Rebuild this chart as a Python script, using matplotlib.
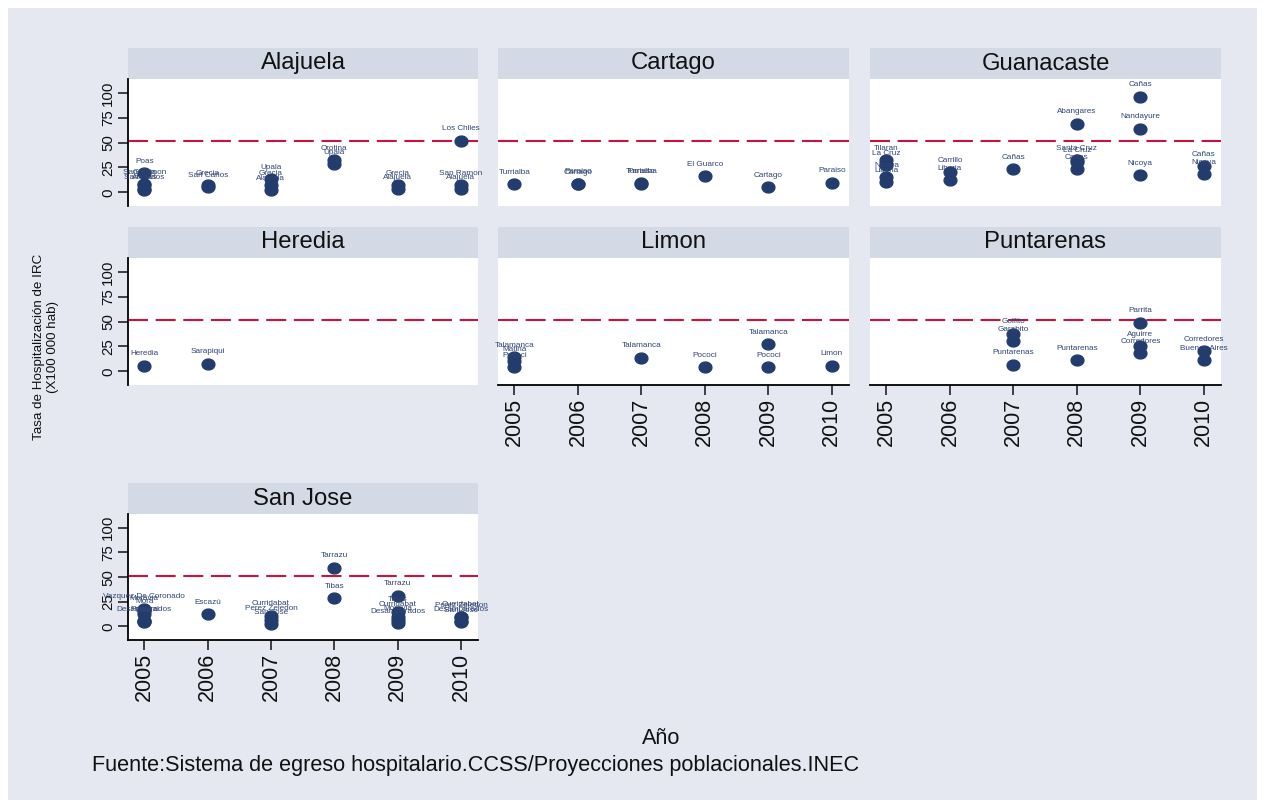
import matplotlib
matplotlib.use("Agg")
import matplotlib.pyplot as plt
from matplotlib.path import Path
from matplotlib.patches import Rectangle
import numpy as np

plt.rcParams['font.family'] = ['Liberation Sans', 'DejaVu Sans']
plt.rcParams['lines.scale_dashes'] = False

# ---------------- data ----------------
year_ticks = [2005, 2006, 2007, 2008, 2009, 2010]
y_ticks = [0, 25, 50, 75, 100]
threshold = 51.5

alajuela_years = [2005, 2005, 2005, 2005, 2005, 2006, 2006, 2007, 2007, 2007,
                  2008, 2008, 2009, 2009, 2010, 2010, 2010]
alajuela_vals = [19, 8, 7.5, 3, 2.5, 7, 5, 13, 7, 2, 32, 28, 7, 3, 7, 3, 52]
alajuela_labels = ['Poas', 'San Ramon', 'Grecia', 'San Carlos', 'Atenas',
                   'Grecia', 'San Carlos', 'Upala', 'Grecia', 'Alajuela',
                   'Orotina', 'Upala', 'Grecia', 'Alajuela',
                   'San Ramon', 'Alajuela', 'Los Chiles']

cartago_years = [2005, 2006, 2006, 2007, 2007, 2008, 2009, 2010]
cartago_vals = [8.3, 8, 8.5, 9, 8.5, 16.4, 5, 9.6]
cartago_labels = ['Turrialba', 'Cartago', 'Paraiso', 'Turrialba', 'Paraiso',
                  'El Guarco', 'Cartago', 'Paraiso']

guanacaste_years = [2005, 2005, 2005, 2005, 2006, 2006, 2007,
                    2008, 2008, 2008, 2008, 2009, 2009, 2009, 2010, 2010]
guanacaste_vals = [32, 27, 15, 10, 20, 12, 23, 69, 32, 30, 23, 96, 64, 17.4, 26, 18]
guanacaste_labels = ['Tilaran', 'La Cruz', 'Nicoya', 'Liberia', 'Carrillo',
                     'Liberia', 'Cañas', 'Abangares', 'Santa Cruz', 'La Cruz',
                     'Cañas', 'Cañas', 'Nandayure', 'Nicoya', 'Cañas', 'Nicoya']

heredia_years = [2005, 2006]
heredia_vals = [5.4, 7.7]
heredia_labels = ['Heredia', 'Sarapiqui']

limon_years = [2005, 2005, 2005, 2007, 2008, 2009, 2009, 2010]
limon_vals = [14, 10, 4, 13.7, 4, 27.3, 4, 5.4]
limon_labels = ['Talamanca', 'Matina', 'Pococi', 'Talamanca', 'Pococi',
                'Talamanca', 'Pococi', 'Limon']

puntarenas_years = [2007, 2007, 2007, 2008, 2009, 2009, 2009, 2010, 2010]
puntarenas_vals = [38, 30, 6.4, 11.4, 49, 25, 18, 20, 11]
puntarenas_labels = ['Golfito', 'Garabito', 'Puntarenas', 'Puntarenas', 'Parrita',
                     'Aguirre', 'Corredores', 'Corredores', 'Buenos Aires']

sanjose_years = [2005, 2005, 2005, 2005, 2005, 2005, 2006, 2007, 2007, 2007,
                 2008, 2008, 2009, 2009, 2009, 2009, 2009, 2010, 2010, 2010, 2010]
sanjose_vals = [18, 16, 13, 5, 5, 4.5, 12.4, 11, 6, 2, 59.4, 28.4,
                31, 15, 10, 6, 3, 10, 9.5, 5, 4.5]
sanjose_labels = ['Vazquez De Coronado', 'Moravia', 'Mora', 'Puriscal',
                  'Desamparados', 'Dota', 'Escazú', 'Curridabat', 'Perez Zeledon',
                  'San Jose', 'Tarrazu', 'Tibas', 'Tarrazu', 'Tibas', 'Curridabat',
                  'Moravia', 'Desamparados', 'Curridabat', 'Perez Zeledon',
                  'Desamparados', 'San Jose']

panels = [
    ('Alajuela', alajuela_years, alajuela_vals, alajuela_labels, 0, 0),
    ('Cartago', cartago_years, cartago_vals, cartago_labels, 0, 1),
    ('Guanacaste', guanacaste_years, guanacaste_vals, guanacaste_labels, 0, 2),
    ('Heredia', heredia_years, heredia_vals, heredia_labels, 1, 0),
    ('Limon', limon_years, limon_vals, limon_labels, 1, 1),
    ('Puntarenas', puntarenas_years, puntarenas_vals, puntarenas_labels, 1, 2),
    ('San Jose', sanjose_years, sanjose_vals, sanjose_labels, 2, 0),
]
bottom_panels = {'Limon', 'Puntarenas', 'San Jose'}

# ---------------- styling ----------------
W, H = 1265, 808
BG = '#E5E8F1'
STRIP = '#D4DAE5'
NAVY = '#233C6E'
LABEL_COL = '#2E4575'
RED = '#C8143C'

col_x = [(128, 478), (498, 849), (870, 1221)]
row_y = [(79, 206), (258, 385), (514, 640)]
strip_h = 31

# ellipse marker
t = np.linspace(0, 2 * np.pi, 60)
ell = Path(np.column_stack([np.cos(t), 0.85 * np.sin(t)]), closed=True)

fig = plt.figure(figsize=(W / 100, H / 100), dpi=100)
fig.patch.set_facecolor('white')
fig.patches.append(Rectangle((8 / W, 8 / H), (W - 16) / W, (H - 16) / H,
                             transform=fig.transFigure, facecolor=BG,
                             edgecolor='none', zorder=-10))


def fx(px):
    return px / W


def fy(py):
    return 1 - py / H


for name, yrs, vals, labs, r, c in panels:
    x0, x1 = col_x[c]
    y0, y1 = row_y[r]
    ax = fig.add_axes([fx(x0), fy(y1), fx(x1) - fx(x0), fy(y0) - fy(y1)])
    ax.set_facecolor('white')
    ax.set_xlim(2004.742, 2010.27)
    ax.set_ylim(-13.8, 114)
    for s in ax.spines.values():
        s.set_visible(False)

    ax.axhline(threshold, color=RED, lw=1.5, ls=(0, (14.4, 5.5)), zorder=2)
    ax.plot(yrs, vals, linestyle='none', marker=ell, ms=9.2,
            color=NAVY, mec=NAVY, zorder=3)
    for xv, yv, lab in zip(yrs, vals, labs):
        ax.annotate(lab, (xv, yv), xytext=(0, 8.6), textcoords='offset points',
                    ha='center', va='center', fontsize=5.9, color=LABEL_COL,
                    annotation_clip=False, zorder=4)

    if c == 0:
        ax.spines['left'].set_visible(True)
        ax.spines['left'].set_linewidth(1.3)
        ax.set_yticks(y_ticks)
        ax.set_yticklabels([str(v) for v in y_ticks], rotation=90, va='center')
        ax.tick_params(axis='y', length=7.2, width=1.1, labelsize=10.8, pad=2,
                       colors='#111111')
    else:
        ax.set_yticks([])

    if name in bottom_panels:
        ax.spines['bottom'].set_visible(True)
        ax.spines['bottom'].set_linewidth(1.3)
        ax.set_xticks(year_ticks)
        ax.set_xticklabels([str(v) for v in year_ticks], rotation=90)
        ax.tick_params(axis='x', length=7.2, width=1.1, labelsize=15.5, pad=2,
                       colors='#111111')
    else:
        ax.set_xticks([])

    # strip title
    fig.patches.append(Rectangle((fx(x0), fy(y0)), fx(x1) - fx(x0),
                                 strip_h / H, transform=fig.transFigure,
                                 facecolor=STRIP, edgecolor='none', zorder=-5))
    fig.text(fx((x0 + x1) / 2), fy(y0 - strip_h / 2), name, ha='center',
             va='center', fontsize=17.2, color='#111111')

fig.text(fx(46), fy(347), 'Tasa de Hospitalización de IRC\n(X100 000 hab)',
         rotation=90, ha='center', va='center', multialignment='center',
         fontsize=9.6, color='#111111', linespacing=1.3)
fig.text(fx(661), fy(739), 'Año', ha='center', va='center', fontsize=15.6,
         color='#111111')
fig.text(fx(92), fy(765), 'Fuente:Sistema de egreso hospitalario.CCSS/Proyecciones '
         'poblacionales.INEC', ha='left', va='center', fontsize=15.6,
         color='#111111')

fig.savefig('out.png', dpi=100, facecolor=fig.get_facecolor())
